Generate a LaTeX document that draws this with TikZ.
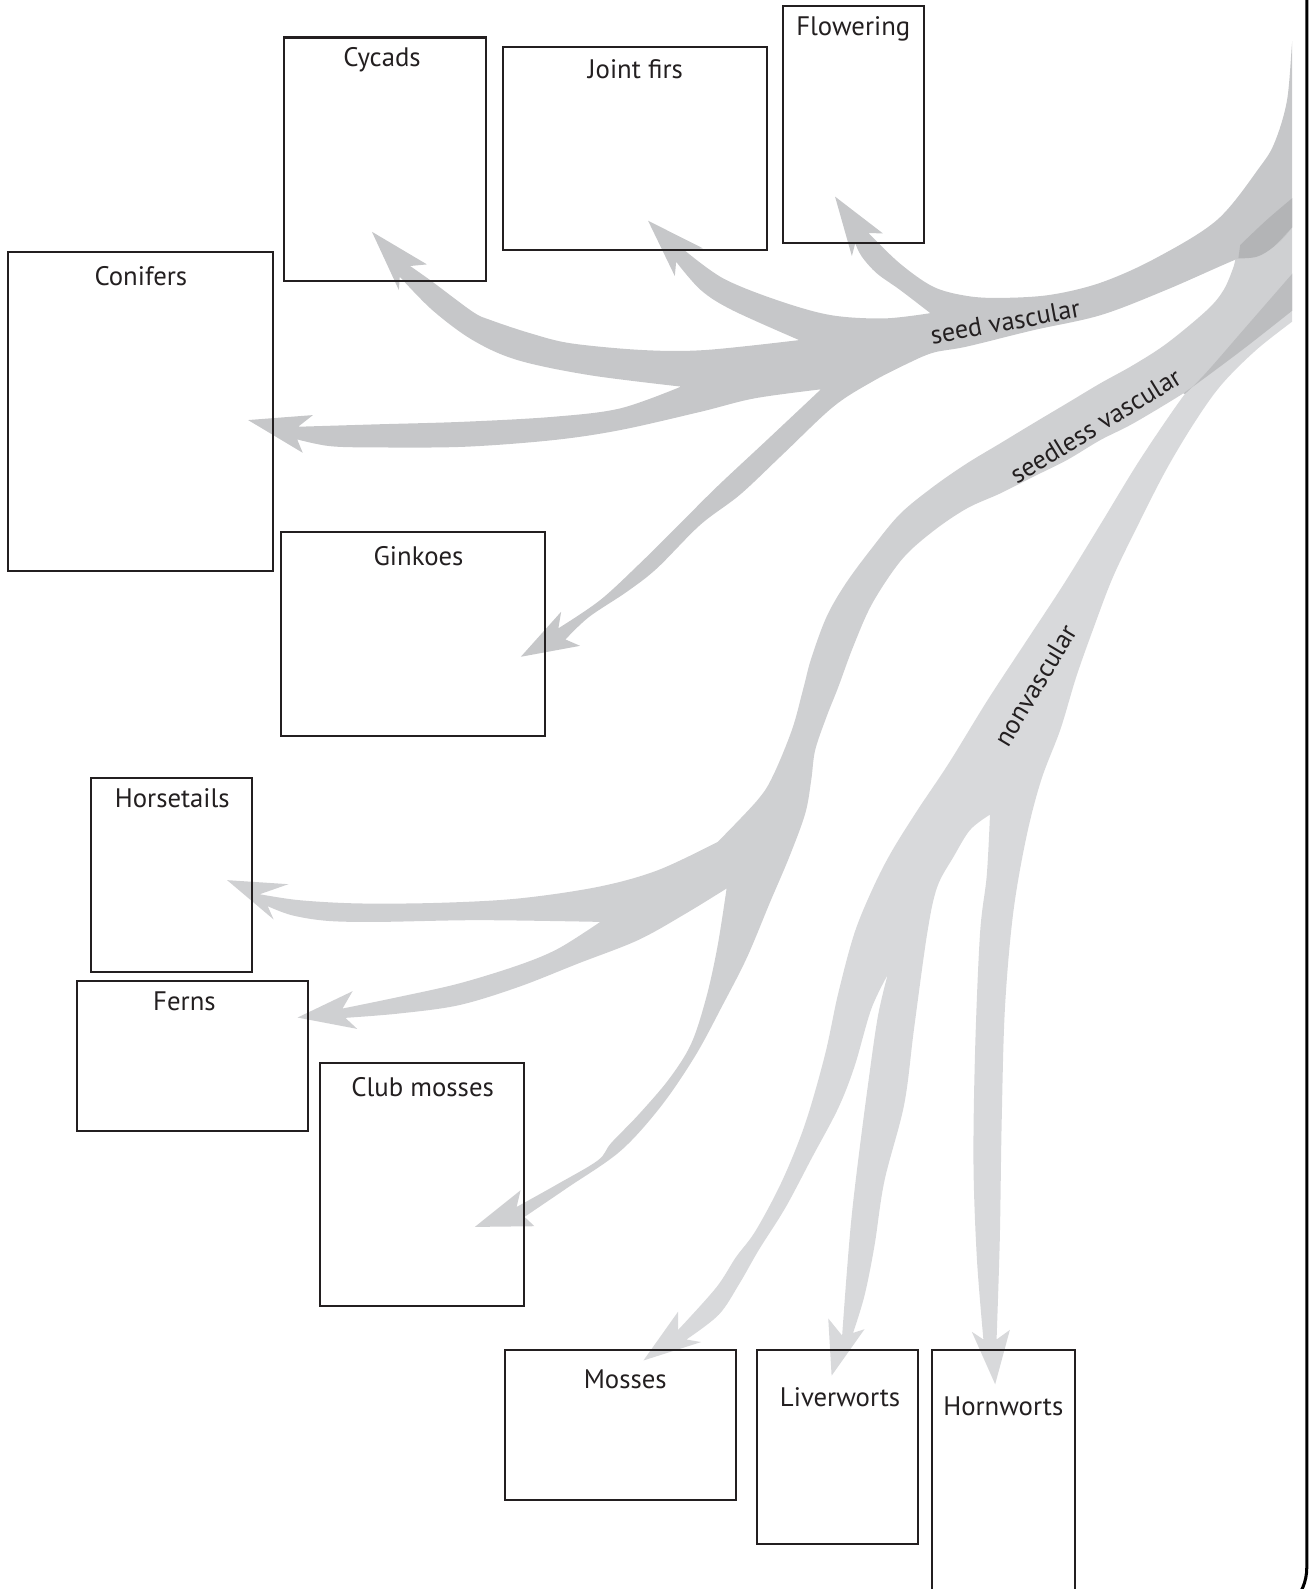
\documentclass[tikz,border=0pt]{standalone}
\usepackage{fontspec}
\setmainfont{PT Sans}
\usetikzlibrary{fit}
\definecolor{seedC}{HTML}{C6C7C9}
\definecolor{seedlessC}{HTML}{CFD0D2}
\definecolor{nonvC}{HTML}{D8D9DB}
\definecolor{darkA}{HTML}{B3B4B6}
\definecolor{darkB}{HTML}{BCBDBF}
\definecolor{ink}{HTML}{231F20}
\begin{document}
\begin{tikzpicture}[x=0.5pt,y=-0.5pt,
  box/.style={draw=ink, line width=1pt, inner sep=0pt},
  lbl/.style={text=ink, font=\fontsize{13.2}{15}\selectfont, inner sep=0pt},
  blbl/.style={text=ink, font=\fontsize{13}{15}\selectfont, inner sep=0pt},
  sm/.style={smooth, tension=0.55}]
\useasboundingbox (0,0) rectangle (1291,1568);
\begin{scope}
\clip (0,0) rectangle (1275,1568);
% nonvascular band
\fill[nonvC] plot[sm] coordinates {(1290,255) (1275,270) (1230,322) (1190,368) (1169.3,388.7) (1125.7,452.3) (1088,514) (1050.1,575.7) (1012.3,633.3) (974.5,690.9) (936.6,752.6) (905,800) (880,840) (862,875) (843.2,920.6) (827,980.8) (814,1041.1) (794.5,1108.9) (771.7,1165.4) (745.6,1214.5) (726.1,1240.7) (706.6,1270.7) (669.2,1312.3)}
 -- (669.2,1294.2) -- (634.9,1342.5) -- (691.9,1324.3)
 -- plot[sm] coordinates {(677.3,1321.8) (709.3,1297.3) (729.4,1267.1) (748.9,1233.2) (775,1191.8) (801,1142.8) (827,1093.8) (843.2,1052.4) (859.7,995.8) (875.9,962)}
 -- plot[sm] coordinates {(875.9,962) (866.2,1003.3) (856.4,1071.2) (846.6,1146.6) (840.1,1203) (835.3,1259.6) (831,1317.9)}
 -- (817.3,1301) -- (820.6,1357.5) -- (853.1,1311.6)
 -- plot[sm] coordinates {(841.8,1315.3) (853.1,1278.4) (862.9,1229.4) (872.7,1165.4) (892.2,1090) (902,1014.7) (915,920.6) (924.8,875.3) (941.1,845.2) (957.4,818.8) (976.9,803.8)}
 -- plot[sm] coordinates {(976.9,803.8) (973.7,864) (967.1,920.6) (962.3,1033.5) (960.6,1146.6) (963.9,1240.7) (970.4,1321.8)}
 -- (959,1314.2) -- (982,1366) -- (996.5,1312.3)
 -- plot[sm] coordinates {(983.4,1321.8) (986.6,1221.8) (988.4,1108.9) (991.6,995.8) (999.7,901.7) (1012.7,826.4) (1027.4,769.8) (1046.4,719.7) (1062,668) (1079,620) (1098,570) (1122,520) (1150,465) (1178,418) (1205,380) (1240,345) (1277,316)}
 -- (1290,310) -- cycle;
% seedless band
\fill[seedlessC] plot[sm] coordinates {(1290,183) (1275,195.7) (1250,217) (1223.8,241.8) (1217.3,263.2) (1207.4,286.2) (1191,306) (1151.5,338.8) (1118.3,360.2) (1085.7,378.3) (1052.8,398) (1019.5,417.8) (987,437.5) (954.1,457.3) (920.9,480.3) (888.3,507) (861,540) (834.6,575.7) (815.6,608.7) (800.5,649.7) (792.9,678.5) (781.7,719.5) (763,765) (747.4,789.6) (708.2,830.8)}
 -- plot[sm] coordinates {(708.2,830.8) (649.2,858.7) (590.3,875.1) (511.7,886.6) (433.2,890.9) (354.5,891.5) (295.6,888.3) (256.3,882.4)}
 -- (284.6,872.5) -- (224.1,868.5) -- (270,907.3)
 -- plot[sm] coordinates {(264.2,894.2) (287.8,903.1) (323.1,908.7) (374.2,909.7) (472.5,908) (592.3,909.7)}
 -- plot[sm] coordinates {(592.3,909.7) (551,936) (511.7,952.4) (452.8,970.5) (393.8,983.7) (338,995.2)}
 -- (347.9,978.1) -- (293.6,1004.1) -- (352.5,1015.3)
 -- plot[sm] coordinates {(340.8,1004.4) (393.8,1000.1) (452.8,991.9) (511.7,973.9) (570.7,950.7) (629.6,927.7) (676.8,901.4) (717,876.7)}
 -- plot[sm] coordinates {(717,876.7) (708,934) (697,984) (682,1030) (660,1065) (630,1100) (603,1128) (590,1145) (551,1168) (509.8,1191)}
 -- (513.7,1174.5) -- (468.5,1210.7) -- (527.4,1210)
 -- plot[sm] coordinates {(517.6,1200.8) (560,1172) (612,1136) (652,1092) (686,1042) (713,992) (737,945) (760,890) (778.9,845.5) (794.6,802.7) (800.5,769.8) (804.4,740.2) (815.6,707.3) (827,678.5) (842.2,637.4) (861,595) (890,552) (921,524) (954.1,501.7) (987,486.9) (1019.5,470.5) (1052.8,454) (1085.7,434.3) (1118.3,417.8) (1167.6,388.2) (1190,372) (1230,342) (1277,305)}
 -- (1290,295) -- cycle;
% seed band
\fill[seedC] plot[sm] coordinates {(1277,28) (1275,42) (1270,99) (1258,140) (1243,165) (1201,217) (1140,255) (1086,279) (1036,291) (987,294) (954,292) (921,283) (888,260) (857,230)}
 -- (871.2,230.3) -- (824,194) -- (840.6,252.7)
 -- plot[sm] coordinates {(843.9,240.2) (850.5,253.4) (865.3,269.8) (888.3,286.2) (918,309)}
 -- plot[sm] coordinates {(918,309) (872.5,314.2) (819.5,310.9) (766.6,296.1) (713.6,274.7) (676,247.4)}
 -- (693.7,245.1) -- (639.5,217.8) -- (665.9,272.4)
 -- plot[sm] coordinates {(667.2,258.3) (691.5,286.2) (722.5,306) (788.6,335.6)}
 -- plot[sm] coordinates {(788.6,335.6) (695.9,345.4) (634.1,345.4) (563.5,338.8) (523.8,329) (484,315.8) (466.4,307.6) (426.6,278) (404.7,262.5)}
 -- (421.3,260.9) -- (367,228.7) -- (393.6,286.2)
 -- plot[sm] coordinates {(394.5,273.1) (426.6,306) (466.4,335.6) (510.6,355.3) (581.1,370.1) (672,381.5)}
 -- plot[sm] coordinates {(672,381.5) (612,403) (545.8,411.3) (457.6,416.2) (369.3,418.8) (294.2,421.1)}
 -- (308.8,409.6) -- (244.8,414.5) -- (298.7,446.8)
 -- plot[sm] coordinates {(293.3,433.6) (325.1,440.2) (369.3,441.5) (457.6,440.9) (545.8,434.3) (612,424.4) (691.5,406.3) (744.5,393.1) (810,384.2)}
 -- plot[sm] coordinates {(810,384.2) (756.7,434.3) (707.4,480.4) (667.9,519.8) (631.7,555.7) (592.2,592.2) (551,620)}
 -- (553.7,603.7) -- (513.9,648.1) -- (572.4,637.3)
 -- plot[sm] coordinates {(558,631) (581,609) (618.5,584) (648.1,561) (690.9,518) (730.4,488) (772.8,448) (822.2,401.4) (860,377) (895,359) (921,348) (954,342) (1019,326) (1086,311) (1151,286) (1222,255) (1256.7,243.5) (1277,222)}
 -- (1290,215) -- (1290,28) -- cycle;
% overlaps
\fill[darkA] plot[sm] coordinates {(1277,194) (1250,217) (1223.8,241.8)} -- (1222,255) -- plot[sm] coordinates {(1222,255) (1240.3,253.3) (1256.7,243.5) (1277,222)} -- cycle;
\fill[darkB] plot[sm] coordinates {(1277,268) (1230,322) (1190,368) (1169.3,388.7)} -- plot[sm] coordinates {(1167.6,388.2) (1190,372) (1230,342) (1277,305)} -- cycle;
\end{scope}
% band labels
\node[blbl, rotate=10.4] (lseed) at (992,317.5) {seed vascular};
\node[blbl, rotate=31.5] (lseedless) at (1081,420) {seedless vascular};
\node[blbl, rotate=59] (lnonv) at (1021.7,676.5) {nonvascular};
% boxes
\node[box, fit={(280,37) (480,277)}] (cycads) {};
\node[box, fit={(496,46) (757,247)}] (jointfirs) {};
\node[box, fit={(773,6) (912,240)}] (flowering) {};
\node[box, fit={(8,249) (269,563)}] (conifers) {};
\node[box, fit={(277,525) (538,726)}] (ginkoes) {};
\node[box, fit={(90,768) (249,959)}] (horsetails) {};
\node[box, fit={(76,968) (304,1116)}] (ferns) {};
\node[box, fit={(316,1049) (517,1289)}] (clubmosses) {};
\node[box, fit={(498,1332) (726,1480)}] (mosses) {};
\node[box, fit={(747,1332) (906,1524)}] (liverworts) {};
\node[box, fit={(920,1332) (1061,1575)}] (hornworts) {};
% box titles
\node[lbl] (tcycads) at (377,59) {Cycads};
\node[lbl] (tjointfirs) at (627,68) {Joint firs};
\node[lbl] (tflowering) at (842,28) {Flowering};
\node[lbl] (tconifers) at (139,272) {Conifers};
\node[lbl] (tginkoes) at (413,549) {Ginkoes};
\node[lbl] (thorsetails) at (170,788) {Horsetails};
\node[lbl] (tferns) at (182,988) {Ferns};
\node[lbl] (tclubmosses) at (417,1073) {Club mosses};
\node[lbl] (tmosses) at (617,1361) {Mosses};
\node[lbl] (tliverworts) at (829,1379) {Liverworts};
\node[lbl] (thornworts) at (990,1388) {Hornworts};
% page edge
\draw[black, line width=1.5pt, rounded corners=25pt] (1289.5,-20) -- (1289.5,1597) -- (1100,1597);
\end{tikzpicture}
\end{document}
